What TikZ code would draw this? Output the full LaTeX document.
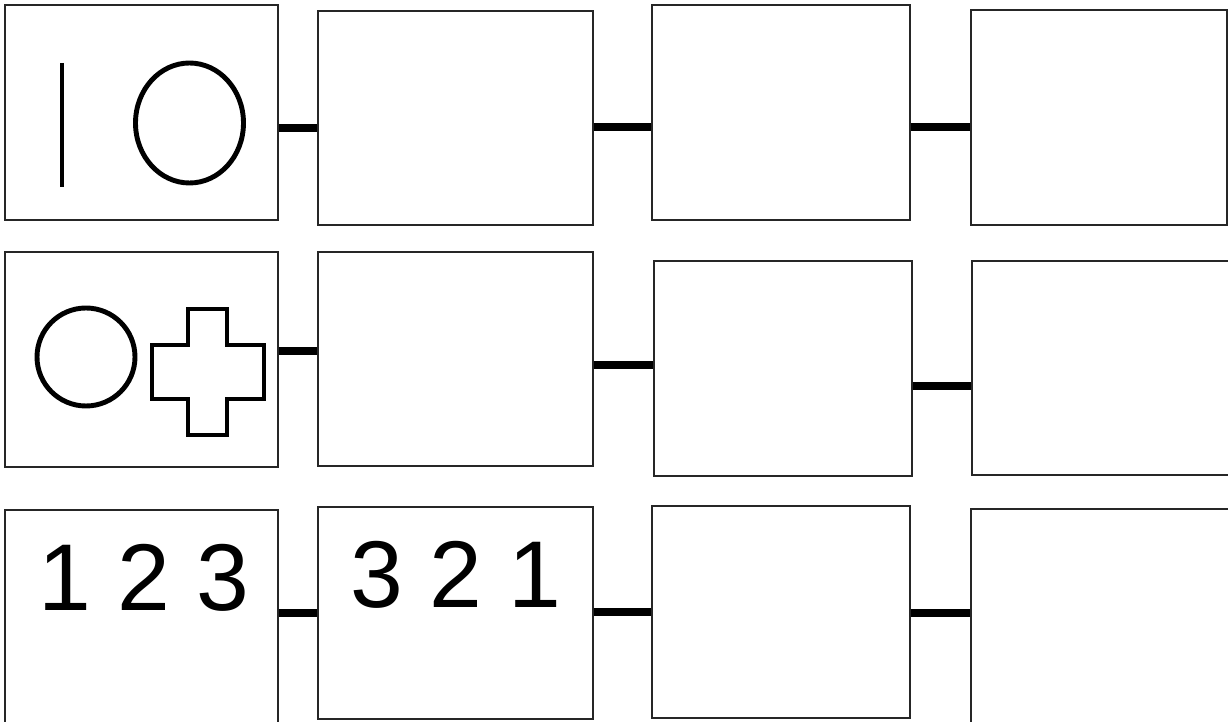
\documentclass[tikz,border=0pt]{standalone}
\usepackage{fontspec}
\setmainfont{Liberation Sans}
\begin{document}
\begin{tikzpicture}[
    x=0.02cm, y=-0.02cm,
    box/.style 2 args={draw=black!85, line width=0.75pt, rectangle, inner sep=0pt,
        minimum width=#1*0.02cm, minimum height=#2*0.02cm},
    link/.style={line width=4.3pt},
    shp/.style={line width=2.8pt},
    digits/.style={inner sep=0pt, anchor=base west, font=\fontsize{54}{60}\selectfont}
]
\useasboundingbox (0,0) rectangle (1228,722);
\clip (0,0) rectangle (1228,722);

\node[box={273}{215}] (a1) at (141.5,112.5) {};
\node[box={275}{214}] (a2) at (455.5,118)   {};
\node[box={258}{215}] (a3) at (781,112.5)   {};
\node[box={256}{215}] (a4) at (1099,117.5)  {};

\node[box={273}{215}] (b1) at (141.5,359.5) {};
\node[box={275}{214}] (b2) at (455.5,359)   {};
\node[box={258}{215}] (b3) at (783,368.5)   {};
\node[box={268}{214}] (b4) at (1106,368)    {};

\node[box={273}{220}] (c1) at (141.5,620)   {};
\node[box={275}{212}] (c2) at (455.5,613)   {};
\node[box={258}{212}] (c3) at (781,612)     {};
\node[box={269}{221}] (c4) at (1105.5,619.5) {};

\draw[link] (a1.east |- 0,128) -- (a2.west |- 0,128);
\draw[link] (a2.east |- 0,127) -- (a3.west |- 0,127);
\draw[link] (a3.east |- 0,127) -- (a4.west |- 0,127);

\draw[link] (b1.east |- 0,351) -- (b2.west |- 0,351);
\draw[link] (b2.east |- 0,365) -- (b3.west |- 0,365);
\draw[link] (b3.east |- 0,386) -- (b4.west |- 0,386);

\draw[link] (c1.east |- 0,613) -- (c2.west |- 0,613);
\draw[link] (c2.east |- 0,612) -- (c3.west |- 0,612);
\draw[link] (c3.east |- 0,613) -- (c4.west |- 0,613);

% bar and oval
\draw[shp] (62,63) -- (62,187);
\draw[shp] (189.5,123) ellipse [x radius=54, y radius=60];

% circle and cross
\draw[shp] (86,357) circle [radius=49];
\draw[shp] (188,309) -- (227,309) -- (227,345) -- (264,345) -- (264,399)
    -- (227,399) -- (227,435) -- (188,435) -- (188,399) -- (152,399)
    -- (152,345) -- (188,345) -- cycle;

\node[digits] (n1) at (38,611)  {1 2 3};
\node[digits] (n2) at (350,608) {3 2 1};

\end{tikzpicture}
\end{document}
